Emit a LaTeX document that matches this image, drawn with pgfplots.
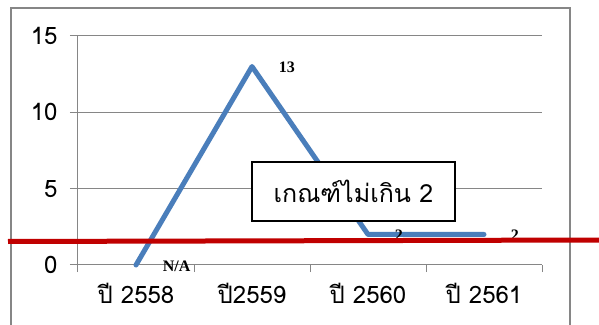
\documentclass[border=0pt]{standalone}
\usepackage{pgfplots}
\pgfplotsset{compat=1.18}
\usepackage{fontspec}
\newfontfamily\thai[Script=Thai]{Loma}
\newfontfamily\lab{Liberation Serif}
\definecolor{series}{HTML}{4A7EBB}
\definecolor{gridgray}{HTML}{868686}
\definecolor{limit}{HTML}{C00000}

\begin{document}
\begin{tikzpicture}[x=1pt,y=1pt]
\useasboundingbox (0,0) rectangle (599,324);
\fill[white] (0,0) rectangle (599,324);
% chart frame
\draw[gridgray, line width=1.5pt] (11,-5) -- (11,316) -- (570,316) -- (570,-5);
\begin{axis}[
  at={(78pt,59pt)}, anchor=south west,
  scale only axis, width=464pt, height=229pt,
  xmin=-0.5, xmax=3.5, ymin=0, ymax=15,
  axis x line*=bottom, axis y line*=left,
  axis line style={gridgray, line width=1pt},
  xtick={0,1,2,3},
  xticklabels={ปี 2558, ปี2559, ปี 2560, ปี 2561},
  major x tick style={draw=none},
  minor xtick={-0.5,0.5,1.5,2.5,3.5},
  ytick={0,5,10,15}, yticklabels={0,5,10,15},
  ymajorgrids, grid style={gridgray, line width=1pt},
  tick align=outside, major tick length=8pt, minor tick length=7pt,
  tick style={gridgray, line width=1pt},
  ticklabel style={font=\thai\fontsize{24}{24}\selectfont, text=black},
  xticklabel style={yshift=-7pt},
  yticklabel style={xshift=-9pt},
  clip=false,
]
\addplot[series, line width=5pt, line cap=round, line join=round,
  nodes near coords, point meta=explicit symbolic,
  nodes near coords style={anchor=west, xshift=21pt, yshift=-1pt, text=black,
    font=\lab\bfseries\fontsize{16}{16}\selectfont}]
  table[meta=lab] {
x y lab
0 0 N/A
1 13 13
2 2 2
3 2 2
};
\end{axis}
% criterion box
\node[draw=black, line width=1.5pt, fill=white, minimum width=203pt, minimum height=59pt,
  inner sep=0pt, font=\thai\fontsize{25}{25}\selectfont] at (353.5,132.5) {เกณฑ์ไม่เกิน 2};
% limit line
\draw[limit, line width=5pt] (8,82.5) -- (600,84);
\end{tikzpicture}
\end{document}
